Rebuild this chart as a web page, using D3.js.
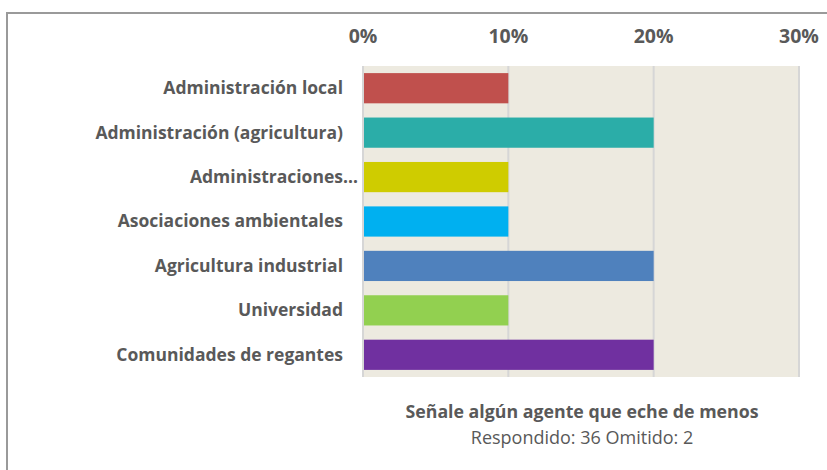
<!DOCTYPE html>
<html>
<head>
<meta charset="utf-8">
<script src="https://cdn.jsdelivr.net/npm/d3@7"></script>
<style>
  body { margin: 0; background: #fff; }
  text { font-family: "Open Sans", sans-serif; fill: #595959; }
</style>
</head>
<body>
<script>
const categories = [
    "Administración local",
    "Administración (agricultura)",
    "Administraciones…",
    "Asociaciones ambientales",
    "Agricultura industrial",
    "Universidad",
    "Comunidades de regantes"
];
const values = [0.10, 0.20, 0.10, 0.10, 0.20, 0.10, 0.20];
const barColors = ["#C0504D", "#2BADA8", "#CFCC00", "#00B0F0", "#4F81BD", "#92D050", "#7030A0"];
const ticks = [0, 0.1, 0.2, 0.3];
const title = "Señale algún agente que eche de menos";
const subtitle = "Respondido: 36 Omitido: 2";

const width = 827, height = 470;
const plot = {left: 363, right: 799, top: 66, bottom: 377};

const svg = d3.select("body").append("svg")
    .attr("width", width)
    .attr("height", height);

// outer frame
svg.append("path")
    .attr("d", "M7," + height + "V13H" + width)
    .attr("fill", "none")
    .attr("stroke", "#9a9a9a")
    .attr("stroke-width", 2);

const x = d3.scaleLinear().domain([0, 0.3]).range([plot.left, plot.right]);
const y = d3.scaleBand().domain(categories).range([plot.top, plot.bottom]).paddingInner(0.32).paddingOuter(0.16);

svg.append("rect")
    .attr("x", plot.left)
    .attr("y", plot.top)
    .attr("width", plot.right - plot.left)
    .attr("height", plot.bottom - plot.top)
    .attr("fill", "#EDEAE0");

svg.selectAll(".grid")
    .data(ticks)
    .enter().append("line")
    .attr("x1", d => x(d)).attr("x2", d => x(d))
    .attr("y1", plot.top).attr("y2", plot.bottom)
    .attr("stroke", "#d6d6d6")
    .attr("stroke-width", 2);

svg.selectAll(".tick-label")
    .data(ticks)
    .enter().append("text")
    .attr("x", d => x(d))
    .attr("y", 43)
    .attr("text-anchor", "middle")
    .style("font-size", "19.5px")
    .style("font-weight", "bold")
    .text(d3.format(".0%"));

svg.selectAll(".bar")
    .data(categories)
    .enter().append("rect")
    .attr("x", x(0) + 1)
    .attr("y", d => y(d))
    .attr("width", (d, i) => x(values[i]) - x(0) - 1)
    .attr("height", y.bandwidth())
    .attr("fill", (d, i) => barColors[i]);

const labels = svg.selectAll(".cat")
    .data(categories)
    .enter().append("text")
    .attr("x", 343)
    .attr("y", d => y(d) + y.bandwidth() / 2)
    .attr("dy", "0.34em")
    .attr("text-anchor", "end")
    .style("font-size", "17.5px")
    .style("font-weight", "bold")
    .text(d => d.replace("…", ""));

// truncated label: ellipsis overflows past the label edge
svg.selectAll(".ell")
    .data(categories.filter(d => d.endsWith("…")))
    .enter().append("text")
    .attr("x", 343)
    .attr("y", d => y(d) + y.bandwidth() / 2)
    .attr("dy", "0.34em")
    .style("font-size", "17.5px")
    .style("font-weight", "bold")
    .text("…");

svg.append("text")
    .attr("x", 582)
    .attr("y", 418)
    .attr("text-anchor", "middle")
    .style("font-size", "17.75px")
    .style("font-weight", "bold")
    .text(title);

svg.append("text")
    .attr("x", 582)
    .attr("y", 444)
    .attr("text-anchor", "middle")
    .style("font-size", "18px")
    .text(subtitle);
</script>
</body>
</html>
